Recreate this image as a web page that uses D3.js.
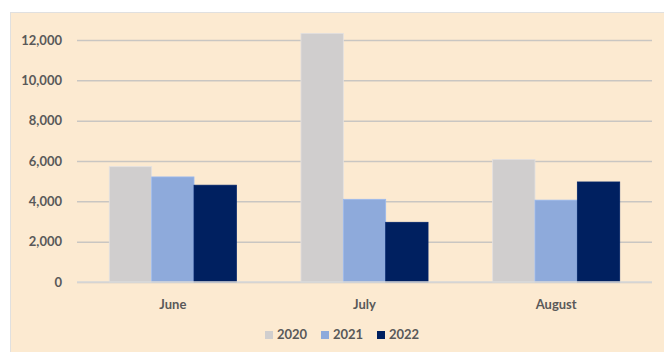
<!DOCTYPE html>
<html><head><meta charset="utf-8">
<script src="https://cdn.jsdelivr.net/npm/d3@7"></script>
<style>body{margin:0;background:#fff}svg{display:block}text{font-family:Lato,"Open Sans",sans-serif;font-weight:bold;fill:#595959}</style>
</head><body><svg id="c" width="664" height="352"></svg>
<script>
const categories = ["June", "July", "August"];
const seriesNames = ["2020", "2021", "2022"];
const values2020 = [5720, 12330, 6080];
const values2021 = [5210, 4100, 4060];
const values2022 = [4800, 2960, 4960];
const yTicks = [0, 2000, 4000, 6000, 8000, 10000, 12000];
const colors = ["#d0cece", "#8eaadb", "#002060"];

const seriesValues = [values2020, values2021, values2022];
const svg = d3.select("#c");
svg.append("rect").attr("x", 10.5).attr("y", 12.5).attr("width", 660).attr("height", 345)
  .attr("fill", "#fcead1").attr("stroke", "#e0e0e0");

const y = d3.scaleLinear().domain([0, 12000]).range([282, 40]);
const x = d3.scaleBand().domain(categories).range([77, 652]).paddingInner(0.337).paddingOuter(0.1685);
const xs = d3.scaleBand().domain(seriesNames).range([0, x.bandwidth()]).padding(0);

const yAxis = d3.axisLeft(y).tickValues(yTicks).tickSize(-575).tickPadding(15).tickFormat(d3.format(","));
const ga = svg.append("g").attr("transform", "translate(77,0)").call(yAxis);
ga.select(".domain").remove();
ga.selectAll(".tick line").attr("stroke", "#c9c6c2").attr("stroke-width", 1.5);
ga.selectAll(".tick text").style("font-size", "13px").attr("x", -15);

const groups = svg.append("g").selectAll("g").data(categories).join("g")
  .attr("transform", d => `translate(${x(d)},0)`);
groups.selectAll("rect").data((c, i) => seriesNames.map((s, j) => ({s, v: seriesValues[j][i], j})))
  .join("rect")
  .attr("x", d => xs(d.s)).attr("width", xs.bandwidth())
  .attr("y", d => y(d.v)).attr("height", d => y(0) - y(d.v))
  .attr("fill", d => colors[d.j]).attr("stroke", d => d3.color(colors[d.j]).brighter(0.25)).attr("stroke-width", 0.8);

svg.append("line").attr("x1", 77).attr("x2", 652).attr("y1", 282).attr("y2", 282)
  .attr("stroke", "#d9d9d9").attr("stroke-width", 1.5);

const gx = svg.append("g").attr("transform", "translate(0,282)").call(d3.axisBottom(x).tickSize(0).tickPadding(18));
gx.select(".domain").remove();
gx.selectAll("text").style("font-size", "13px");

const legend = svg.append("g").attr("transform", "translate(265,330)");
const lx = [0, 56, 112];
seriesNames.forEach((s, i) => {
  legend.append("rect").attr("x", lx[i]).attr("y", 1).attr("width", 8).attr("height", 8).attr("fill", colors[i]);
  legend.append("text").attr("x", lx[i] + 12).attr("y", 9).style("font-size", "13px").text(s);
});
</script></body></html>
